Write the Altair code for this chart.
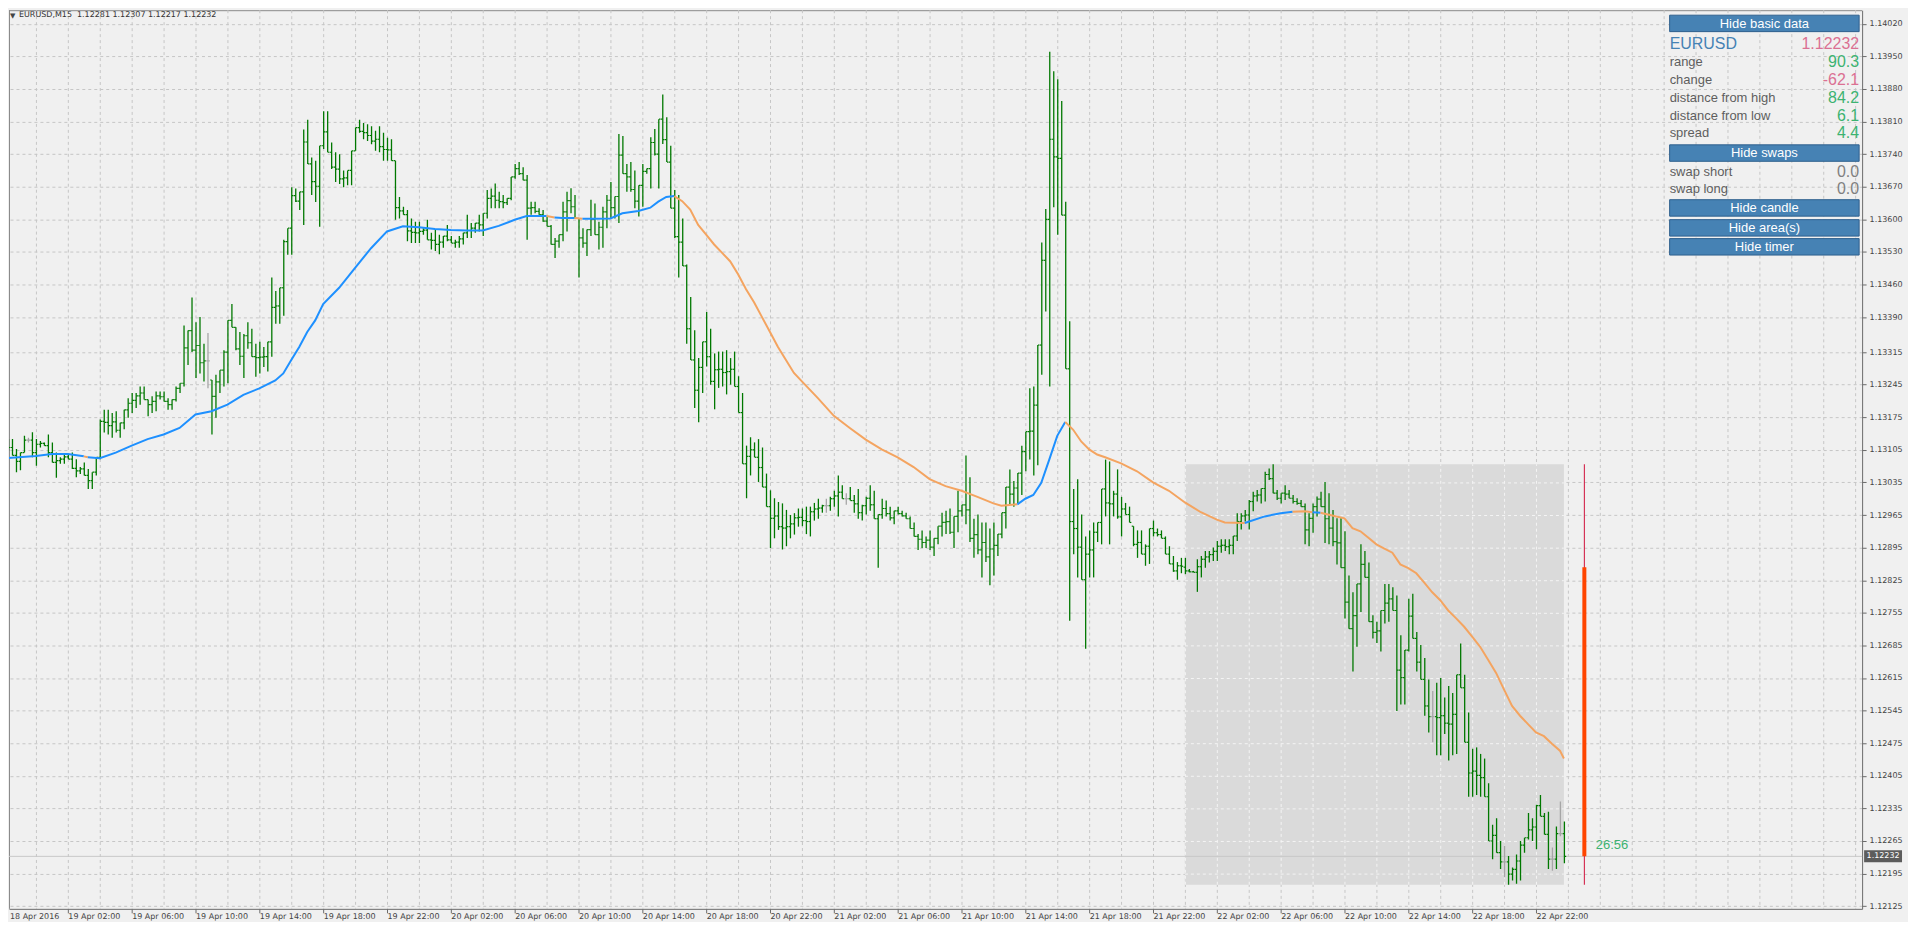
import altair as alt
import pandas as pd

# ---------------- data (prices in points = 1e-5 above BASE) ----------------
SYMBOL = "EURUSD"
TIMEFRAME = "M15"
BASE = 1.12

HIGH = [1145,1128,1128,1107,1099,1135,1131,1143,1128,1124,
        1121,1138,1121,1099,1089,1096,1096,1099,1085,1068,
        1078,1064,1057,1089,1170,1191,1191,1184,1188,1163,
        1191,1216,1227,1227,1241,1241,1213,1220,1230,1230,
        1230,1216,1213,1241,1248,1372,1361,1432,1379,1390,
        1333,1356,1255,1266,1276,1319,1383,1418,1368,1358,
        1354,1379,1365,1333,1337,1326,1337,1475,1446,1453,
        1556,1581,1669,1666,1659,1793,1814,1733,1726,1758,
        1832,1832,1765,1744,1740,1705,1705,1747,1797,1814,
        1807,1804,1800,1790,1800,1786,1775,1772,1726,1648,
        1627,1620,1602,1595,1595,1581,1599,1571,1578,1567,
        1564,1588,1564,1556,1564,1571,1610,1592,1592,1610,
        1613,1663,1666,1677,1659,1652,1645,1691,1719,1723,
        1712,1695,1638,1638,1624,1620,1606,1588,1560,1567,
        1638,1659,1667,1652,1602,1581,1578,1642,1634,1595,
        1627,1652,1680,1649,1783,1779,1719,1723,1705,1673,
        1719,1709,1776,1794,1815,1868,1819,1758,1663,1652,
        1602,1503,1433,1362,1302,1337,1401,1365,1312,1316,
        1316,1319,1302,1316,1263,1227,1114,1132,1121,1128,
        1110,1054,1018,1001,993,990,976,965,969,979,
        979,983,983,991,1000,987,1000,1004,1017,1050,
        1029,1012,1025,1008,1021,987,1004,1029,1017,966,
        1000,996,983,974,983,974,970,962,949,924,
        932,919,932,915,941,970,974,979,962,1017,
        987,1093,1046,957,966,949,949,936,949,924,
        970,1025,1063,1038,1055,1114,1144,1237,1241,1330,
        1550,1622,1960,1918,1901,1854,1638,1381,1021,1042,
        966,919,932,949,949,1021,1084,1080,1017,1063,
        1004,991,983,941,932,932,902,936,953,936,
        932,919,898,877,864,873,873,849,845,870,
        877,888,888,895,909,913,913,913,920,969,
        969,976,997,1015,1019,1022,1058,1065,1074,1019,
        1012,1029,1019,1008,1001,997,990,969,990,1005,
        1015,1036,1012,976,958,958,930,835,799,817,
        902,888,863,750,736,760,817,817,810,792,
        707,675,785,796,714,686,658,612,587,605,
        615,573,598,583,622,689,622,541,463,466,
        452,442,389,300,314,265,254,233,208,236,
        265,272,325,314,343,364,325,328,251,296,
        350,307]

LOW = [1085,1103,1093,1057,1061,1099,1121,1089,1071,1110,
       1114,1089,1078,1045,1075,1075,1085,1064,1046,1053,
       1050,1021,1021,1050,1085,1142,1138,1131,1142,1131,
       1149,1174,1184,1195,1202,1213,1177,1184,1188,1213,
       1209,1191,1191,1209,1227,1241,1287,1315,1259,1269,
       1252,1237,1138,1174,1227,1241,1248,1368,1319,1287,
       1259,1322,1305,1262,1269,1283,1273,1305,1376,1376,
       1393,1524,1524,1637,1620,1588,1719,1652,1637,1584,
       1751,1744,1708,1680,1676,1669,1673,1673,1747,1786,
       1772,1768,1761,1747,1744,1726,1726,1726,1599,1602,
       1610,1553,1549,1549,1549,1567,1556,1535,1532,1525,
       1539,1553,1549,1539,1539,1546,1560,1560,1571,1574,
       1564,1602,1624,1624,1624,1624,1631,1641,1687,1695,
       1684,1556,1610,1613,1610,1595,1585,1546,1517,1539,
       1553,1574,1613,1602,1475,1539,1521,1564,1567,1535,
       1539,1581,1602,1602,1592,1698,1659,1659,1624,1606,
       1627,1698,1666,1737,1666,1762,1723,1624,1560,1475,
       1500,1333,1298,1195,1164,1227,1284,1245,1192,1238,
       1241,1224,1245,1241,1185,1075,1001,1050,1089,1036,
       1025,983,894,915,933,891,898,915,923,940,
       941,924,919,953,957,970,970,974,983,962,
       1000,987,996,970,957,953,966,974,957,852,
       957,962,953,945,966,962,957,936,919,890,
       894,894,890,877,902,919,924,924,894,928,
       962,945,907,873,881,831,864,814,835,877,
       915,936,987,983,991,1008,1059,1084,1050,1072,
       1266,1402,1241,1626,1567,1609,1279,738,881,831,
       826,678,831,831,907,902,962,902,962,957,
       919,966,949,898,873,881,856,860,919,919,
       915,881,860,843,826,840,838,842,842,800,
       831,852,863,866,866,884,888,881,881,909,
       934,951,934,973,994,990,994,1040,1012,997,
       990,997,1001,990,987,983,902,898,927,962,
       983,905,902,898,859,852,743,721,629,682,
       757,831,736,700,690,672,732,736,760,544,
       558,558,672,700,629,612,534,498,477,449,
       449,495,438,449,452,594,477,360,360,364,
       360,360,265,226,240,205,187,171,180,173,
       180,240,268,265,247,318,279,205,201,205,
       275,217]

OPEN = [1090,1115,1110,1093,1080,1099,1126,1126,1099,1117,
        1119,1114,1099,1078,1082,1085,1090,1085,1065,1060,
        1064,1050,1039,1057,1089,1166,1164,1157,1165,1147,
        1163,1191,1205,1211,1221,1227,1213,1202,1209,1221,
        1219,1209,1202,1213,1237,1248,1324,1361,1319,1329,
        1292,1296,1255,1220,1251,1276,1315,1383,1368,1322,
        1306,1350,1335,1305,1303,1304,1305,1337,1411,1414,
        1453,1552,1581,1651,1639,1659,1766,1719,1681,1671,
        1758,1788,1744,1712,1708,1687,1689,1705,1747,1797,
        1789,1786,1780,1768,1772,1756,1750,1749,1726,1625,
        1618,1610,1575,1572,1571,1574,1577,1556,1555,1546,
        1551,1564,1556,1549,1551,1558,1571,1576,1581,1592,
        1588,1613,1645,1650,1641,1638,1636,1645,1691,1709,
        1698,1684,1624,1625,1617,1610,1596,1585,1546,1553,
        1567,1616,1640,1627,1602,1560,1549,1578,1600,1567,
        1583,1616,1641,1625,1649,1738,1698,1691,1664,1639,
        1673,1703,1709,1765,1740,1815,1771,1723,1624,1563,
        1551,1500,1365,1298,1233,1282,1337,1305,1252,1277,
        1278,1271,1273,1278,1241,1185,1075,1091,1105,1089,
        1067,1025,983,958,963,940,937,940,946,959,
        960,953,951,972,978,980,985,985,1000,1006,
        1014,1000,1000,996,989,970,985,1001,987,957,
        966,979,968,959,974,968,963,957,936,919,
        913,906,911,896,915,941,949,951,928,962,
        974,987,976,915,923,890,906,875,892,900,
        924,970,1025,1010,1023,1055,1101,1144,1145,1201,
        1330,1512,1600,1772,1734,1731,1609,1279,951,936,
        896,826,881,890,928,949,1021,991,989,1010,
        961,978,966,941,902,906,881,898,936,927,
        923,915,881,860,845,856,853,845,843,842,
        854,870,875,880,887,898,900,897,900,920,
        951,963,965,994,1006,1008,1022,1052,1043,1012,
        1001,1012,1010,1001,994,990,983,933,958,983,
        999,983,957,937,908,905,852,778,721,749,
        817,859,831,736,713,716,760,776,785,760,
        632,616,675,748,700,649,612,555,532,532,
        530,534,518,516,537,622,594,477,411,415,
        406,401,360,265,277,240,220,220,194,204,
        222,256,272,289,295,341,318,279,226,226,
        281,281]

CLOSE = [1115,1110,1093,1080,1099,1126,1126,1099,1117,1119,
         1114,1099,1078,1082,1085,1090,1085,1065,1060,1064,
         1050,1039,1057,1089,1166,1164,1157,1165,1147,1163,
         1191,1205,1211,1221,1227,1213,1202,1209,1221,1219,
         1209,1202,1213,1237,1248,1324,1361,1319,1329,1292,
         1296,1296,1220,1251,1276,1315,1383,1368,1322,1306,
         1350,1335,1305,1303,1304,1305,1337,1411,1414,1453,
         1552,1581,1651,1639,1659,1766,1719,1681,1671,1758,
         1788,1744,1712,1708,1687,1689,1705,1747,1797,1789,
         1786,1780,1768,1772,1756,1750,1749,1726,1625,1618,
         1610,1575,1572,1571,1574,1577,1556,1555,1546,1551,
         1564,1556,1549,1551,1558,1571,1576,1581,1592,1588,
         1613,1645,1650,1641,1638,1636,1645,1691,1709,1698,
         1684,1624,1625,1617,1610,1596,1585,1546,1553,1567,
         1616,1640,1627,1602,1560,1549,1578,1600,1567,1583,
         1616,1641,1625,1649,1738,1698,1691,1664,1639,1673,
         1703,1709,1765,1740,1815,1771,1723,1624,1563,1551,
         1500,1365,1298,1233,1282,1337,1305,1252,1277,1278,
         1271,1273,1278,1241,1185,1075,1091,1105,1089,1067,
         1025,983,958,963,940,937,940,946,959,960,
         953,951,972,978,980,985,985,1000,1006,1014,
         1000,1000,996,989,970,985,1001,987,957,966,
         979,968,959,974,968,963,957,936,919,913,
         906,911,896,915,941,949,951,928,962,974,
         987,976,915,923,890,906,875,892,900,924,
         970,1025,1010,1023,1055,1101,1144,1145,1201,1330,
         1512,1600,1772,1734,1731,1609,1279,951,936,896,
         826,881,890,928,949,1021,991,989,1010,961,
         978,966,949,902,906,881,898,936,927,923,
         915,881,860,845,856,855,845,843,842,854,
         870,875,880,887,898,900,897,900,920,951,
         963,965,994,1006,1008,1022,1052,1043,1012,1001,
         1012,1010,1001,994,990,983,933,958,983,999,
         983,957,937,908,905,852,778,721,749,817,
         859,831,736,713,716,760,776,785,760,632,
         616,675,748,700,649,612,555,532,532,530,
         534,518,516,537,622,594,477,411,415,406,
         401,360,265,277,240,220,220,194,204,222,
         256,272,289,295,341,318,279,226,226,281,
         281,232]

# moving average read at key bars, and its rising/falling colour runs
MA_BAR = [0,8,12,16,20,21,24,28,32,36,40,44,48,52,56,60,64,68,70,72,74,76,78,80,84,88,92,96,
          100,104,108,112,116,120,124,128,131,136,138,140,143,145,148,152,155,159,162,164,166,168,
          170,172,174,176,178,180,182,184,186,188,190,192,194,196,198,200,204,208,212,216,
          220,224,228,232,236,240,244,248,250,254,256,258,260,262,264,266,268,270,272,274,
          276,280,284,288,292,296,300,304,306,311,316,320,323,326,328,330,334,336,338,340,
          342,344,346,348,350,352,354,356,358,360,362,364,366,368,370,372,374,376,378,380,
          382,384,386,388,390,391]
MA_PTS = [1087,1092,1096,1096,1091,1089,1087,1099,1114,1128,1138,1152,1181,1188,1202,1223,1237,1254,1269,1298,
          1326,1358,1383,1418,1453,1496,1538,1574,1585,1583,1579,1577,1576,1576,1586,1599,1607,1607,1604,1603,
          1603,1601,1601,1602,1613,1618,1625,1638,1648,1650,1639,1621,1588,1567,1546,1528,1510,1482,1450,1422,
          1390,1358,1326,1298,1270,1252,1216,1178,1152,1127,1106,1089,1068,1042,1027,1017,1004,990,985,988,
          1000,1008,1034,1084,1135,1165,1148,1123,1106,1095,1089,1076,1059,1035,1017,992,971,955,949,948,
          962,969,972,973,971,970,962,958,937,930,916,902,893,884,859,851,840,820,799,782,
          760,743,725,704,682,654,626,590,555,534,516,498,490,474,459,442]
MA_RUNS = [(0, 20, "up"), (20, 21, "down"), (21, 136, "up"), (136, 138, "down"), (138, 143, "up"),
           (143, 145, "down"), (145, 168, "up"), (168, 254, "down"), (254, 266, "up"),
           (266, 311, "down"), (311, 323, "up"), (323, 328, "down"), (328, 330, "up"), (330, 391, "down")]

Y_TICK_LABELS = ["1.14020","1.13950","1.13880","1.13810","1.13740","1.13670","1.13600","1.13530",
                 "1.13460","1.13390","1.13315","1.13245","1.13175","1.13105","1.13035","1.12965",
                 "1.12895","1.12825","1.12755","1.12685","1.12615","1.12545","1.12475","1.12405",
                 "1.12335","1.12265","1.12195","1.12125"]
FIRST_LABEL = "18 Apr 2016"
X_TICK_LABELS = ["19 Apr 02:00","19 Apr 06:00","19 Apr 10:00","19 Apr 14:00","19 Apr 18:00","19 Apr 22:00",
                 "20 Apr 02:00","20 Apr 06:00","20 Apr 10:00","20 Apr 14:00","20 Apr 18:00","20 Apr 22:00",
                 "21 Apr 02:00","21 Apr 06:00","21 Apr 10:00","21 Apr 14:00","21 Apr 18:00","21 Apr 22:00",
                 "22 Apr 02:00","22 Apr 06:00","22 Apr 10:00","22 Apr 14:00","22 Apr 18:00","22 Apr 22:00"]
BARS_PER_LABEL = 16
BARS_PER_GRID = 8
DAY_START_BAR = 296      # 22 Apr 00:00
CANDLE_BAR = 396
SPREAD = 4.4
SWAP_SHORT = 0.0
SWAP_LONG = 0.0
TIMER = "26:56"
BUTTONS = ["Hide basic data", "Hide swaps", "Hide candle", "Hide area(s)", "Hide timer"]

n = len(CLOSE)
assert len(HIGH) == n and len(LOW) == n and len(OPEN) == n and len(MA_BAR) == len(MA_PTS)

# ---------------- style ----------------
W, H = 1858, 901
FONT = "Liberation Sans"
AXFONT = "DejaVu Sans"
BAR_UP = "#007800"
BAR_DOJI = "#a6a6a6"
MA_UP = "#1e90ff"
MA_DOWN = "#f4a460"
GRID = "#c6c6c6"
AXC = "#6a6a6a"
XS = alt.Scale(domain=[1.25, 1.25 + W / 4], nice=False, zero=False)
YS = alt.Scale(domain=[1.121193, 1.140491], nice=False, zero=False)


def px(v):
    return round(BASE + v / 1e5, 5)


bars = pd.DataFrame({
    "i": list(range(n)),
    "o": [px(v) for v in OPEN],
    "h": [px(v) for v in HIGH],
    "l": [px(v) for v in LOW],
    "c": [px(v) for v in CLOSE],
    "col": [BAR_DOJI if o == c else BAR_UP for o, c in zip(OPEN, CLOSE)],
})

ma_rows = []
for k, (a, b, kind) in enumerate(MA_RUNS):
    for bi, val in zip(MA_BAR, MA_PTS):
        if a <= bi <= b:
            ma_rows.append({"i": bi, "v": px(val), "seg": k, "col": MA_UP if kind == "up" else MA_DOWN})
ma = pd.DataFrame(ma_rows)

day_o = OPEN[DAY_START_BAR]
day_h = max(HIGH[DAY_START_BAR:])
day_l = min(LOW[DAY_START_BAR:])
last_c = CLOSE[-1]

x_vals = [BARS_PER_LABEL * (k + 1) for k in range(len(X_TICK_LABELS))]
label_arr = "[" + ",".join("'" + s + "'" for s in X_TICK_LABELS) + "]"
x_axis = alt.Axis(values=x_vals, labelExpr=label_arr + "[round(datum.value/" + str(BARS_PER_LABEL) + ")-1]",
                  orient="bottom", grid=False, title=None, tickSize=4, tickColor=AXC,
                  domainColor=AXC, labelFont=AXFONT, labelFontSize=8, labelColor="#444444",
                  labelAlign="left", labelBaseline="top", labelPadding=0, labelOverlap=False,
                  labelFlush=False, labelBound=False)
y_vals = [float(s) for s in Y_TICK_LABELS]
y_axis = alt.Axis(values=y_vals, format=".5f", orient="right", grid=True, gridColor=GRID,
                  gridDash=[3, 3], gridWidth=1, title=None, tickSize=4, tickColor=AXC,
                  domainColor=AXC, labelFont=AXFONT, labelFontSize=8, labelColor="#444444",
                  labelPadding=3, labelOverlap=False, labelFlush=False, labelBound=False)


def X(f):
    return alt.X(f + ":Q", scale=XS, axis=x_axis)


def Y(f):
    return alt.Y(f + ":Q", scale=YS, axis=y_axis)


# frame on the left and top (right/bottom come from the axes)
frame_l = alt.Chart(pd.DataFrame({"k": [0]})).mark_rule(color="#8a8a8a", strokeWidth=1).encode(
    x=alt.value(0.5), y=alt.value(0), y2=alt.value(H))
frame_t = alt.Chart(pd.DataFrame({"k": [0]})).mark_rule(color="#8a8a8a", strokeWidth=1).encode(
    y=alt.value(0.5), x=alt.value(0), x2=alt.value(W))

# vertical dashed grid
grid_x = pd.DataFrame({"g": list(range(BARS_PER_GRID, int(1.25 + W / 4) + 1, BARS_PER_GRID))})
vgrid = alt.Chart(grid_x).mark_rule(color=GRID, strokeDash=[3, 3], strokeWidth=1, xOffset=0.5).encode(
    x=X("g"), y=alt.value(0), y2=alt.value(H))

# area of the current day
area_df = pd.DataFrame({"x0": [DAY_START_BAR], "x1": [n - 1], "lo": [px(day_l)], "hi": [px(day_h)]})
area = alt.Chart(area_df).mark_rect(color="#dadada").encode(x=X("x0"), x2="x1", y=Y("lo"), y2="hi")

in_v = pd.DataFrame({"g": [g for g in grid_x["g"] if DAY_START_BAR <= g <= n - 1]})
in_v["lo"] = px(day_l)
in_v["hi"] = px(day_h)
ingrid_v = alt.Chart(in_v).mark_rule(color="#f4f4f4", strokeDash=[3, 3], strokeWidth=1, xOffset=0.5).encode(
    x=X("g"), y=Y("lo"), y2="hi")
in_h = pd.DataFrame({"p": [v for v in y_vals if px(day_l) <= v <= px(day_h)]})
in_h["x0"] = DAY_START_BAR
in_h["x1"] = n - 1
ingrid_h = alt.Chart(in_h).mark_rule(color="#f4f4f4", strokeDash=[3, 3], strokeWidth=1, yOffset=0.5).encode(
    y=Y("p"), x=X("x0"), x2="x1")

# current price line
pl_df = pd.DataFrame({"p": [px(last_c)], "t": [f"{px(last_c):.5f}"]})
pline = alt.Chart(pl_df).mark_rule(color="#c8c8c8", strokeWidth=1).encode(
    y=Y("p"), x=alt.value(0), x2=alt.value(W))

bar_col = alt.Color("col:N", scale=None)
hl = alt.Chart(bars).mark_rule(strokeWidth=1.3, xOffset=0.5, clip=True).encode(
    x=X("i"), y=Y("l"), y2="h", color=bar_col)
otick = alt.Chart(bars).mark_rule(strokeWidth=1.2, xOffset=-1.3, x2Offset=0.3, clip=True).encode(
    x=X("i"), x2="i", y=Y("o"), color=bar_col)
ctick = alt.Chart(bars).mark_rule(strokeWidth=1.2, xOffset=0.7, x2Offset=2.3, clip=True).encode(
    x=X("i"), x2="i", y=Y("c"), color=bar_col)

ma_line = alt.Chart(ma).mark_line(strokeWidth=2, clip=True).encode(
    x=X("i"), y=Y("v"), detail="seg:N", color=alt.Color("col:N", scale=None))

cd = pd.DataFrame({"i": [CANDLE_BAR], "o": [px(day_o)], "h": [px(day_h)], "l": [px(day_l)], "c": [px(last_c)]})
wick = alt.Chart(cd).mark_rule(color="#d0103a", strokeWidth=1, xOffset=0.5).encode(x=X("i"), y=Y("l"), y2="h")
body = alt.Chart(cd).mark_rule(color="#ff4500", strokeWidth=4, xOffset=0.5).encode(x=X("i"), y=Y("o"), y2="c")

timer = alt.Chart(pd.DataFrame({"t": [TIMER]})).mark_text(
    font=FONT, fontSize=13, color="#3cb371", align="left", baseline="middle").encode(
    x=alt.value(1591), y=alt.value(837), text="t:N")

# price tag on the axis
ptag = alt.Chart(pl_df).mark_rule(color="#5c5c5c", strokeWidth=12).encode(
    y=Y("p"), x=alt.value(W + 2), x2=alt.value(W + 40))
ptag_t = alt.Chart(pl_df).mark_text(font=AXFONT, fontSize=8, color="white", align="center", baseline="middle").encode(
    y=Y("p"), x=alt.value(W + 21), text="t:N")

# header text
head = f"{SYMBOL},{TIMEFRAME}\u00a0 {px(OPEN[-1]):.5f} {px(HIGH[-1]):.5f} {px(LOW[-1]):.5f} {px(CLOSE[-1]):.5f}"
tri = alt.Chart(pd.DataFrame({"t": ["\u25bc"]})).mark_text(
    font="DejaVu Sans", fontSize=7, color="#444444", align="left", baseline="top").encode(
    x=alt.value(1), y=alt.value(2), text="t:N")
title = alt.Chart(pd.DataFrame({"t": [head]})).mark_text(
    font=AXFONT, fontSize=8, color="#333333", align="left", baseline="top").encode(
    x=alt.value(10), y=alt.value(1), text="t:N")
first_lbl = alt.Chart(pd.DataFrame({"t": [FIRST_LABEL]})).mark_text(
    font=AXFONT, fontSize=8, color="#444444", align="left", baseline="top").encode(
    x=alt.value(1), y=alt.value(H + 4), text="t:N")

# ---------------- info panel ----------------
PX0, PX1 = 1665, 1855
btn_top = [5, 135, 190, 210, 229]
btn = pd.DataFrame({"label": BUTTONS, "y0": btn_top, "y1": [t + 16.5 for t in btn_top]})
btn["x0"] = PX0
btn["x1"] = PX1
btn["xc"] = (PX0 + PX1) / 2
btn["yc"] = btn["y0"] + 8.5
buttons = alt.Chart(btn).mark_rect(fill="#4682b4", stroke="#2e5f8e", strokeWidth=1).encode(
    x=alt.X("x0:Q", scale=None), x2="x1", y=alt.Y("y0:Q", scale=None), y2="y1")
btn_txt = alt.Chart(btn).mark_text(font=FONT, fontSize=13, color="white", baseline="middle").encode(
    x=alt.X("xc:Q", scale=None), y=alt.Y("yc:Q", scale=None), text="label:N")

rng = (day_h - day_l) / 10
chg = (last_c - day_o) / 10
dh = (day_h - last_c) / 10
dl = (last_c - day_l) / 10
names = ["range", "change", "distance from high", "distance from low", "spread", "swap short", "swap long"]
nums = [rng, chg, dh, dl, SPREAD, SWAP_SHORT, SWAP_LONG]
rows_y = [52, 69.7, 87.7, 105.7, 123.3, 162, 179.7]
cols = ["#3cb371" if v > 0 else ("#db7093" if v < 0 else "#808080") for v in nums]
info = pd.DataFrame({"name": names, "val": [f"{v:.1f}" for v in nums], "col": cols, "y": rows_y})
info_l = alt.Chart(info).mark_text(font=FONT, fontSize=13, color="#5e5e5e", align="left", baseline="middle").encode(
    x=alt.value(PX0), y=alt.Y("y:Q", scale=None), text="name:N")
info_v = alt.Chart(info).mark_text(font=FONT, fontSize=16, align="right", baseline="middle").encode(
    x=alt.value(PX1), y=alt.Y("y:Q", scale=None), text="val:N", color=alt.Color("col:N", scale=None))
sym = alt.Chart(pd.DataFrame({"t": [SYMBOL]})).mark_text(
    font=FONT, fontSize=16, color="#4682b4", align="left", baseline="middle").encode(
    x=alt.value(PX0), y=alt.value(33.7), text="t:N")
symv = alt.Chart(pl_df).mark_text(font=FONT, fontSize=16, color="#db7093", align="right", baseline="middle").encode(
    x=alt.value(PX1), y=alt.value(33.7), text="t:N")

chart = alt.layer(
    frame_l, frame_t, vgrid, area, ingrid_v, ingrid_h, pline, hl, otick, ctick, ma_line, wick, body,
    timer, ptag, ptag_t, tri, title, first_lbl, buttons, btn_txt, info_l, info_v, sym, symv
).properties(width=W, height=H, padding=0).configure(background="#f0f0f0").configure_view(
    strokeWidth=0)

chart.save("out.html", embed_options={"renderer": "svg", "actions": False})
